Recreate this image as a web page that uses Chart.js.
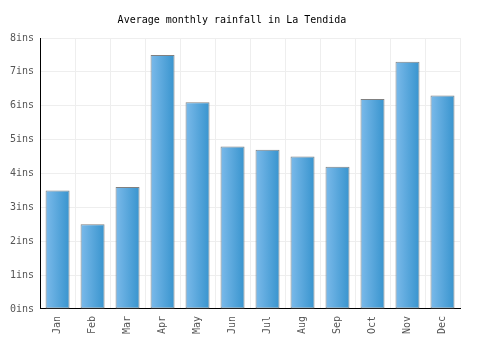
<!DOCTYPE html>
<html><head><meta charset="utf-8">
<script src="https://cdn.jsdelivr.net/npm/chart.js@4"></script>
<style>html,body{margin:0;padding:0;background:#fff}#wrap{width:500px;height:350px}</style>
</head><body><div id="wrap"><canvas id="c" width="500" height="350"></canvas></div>
<script>
const months = ["Jan","Feb","Mar","Apr","May","Jun","Jul","Aug","Sep","Oct","Nov","Dec"];
const rainfall = [3.5,2.5,3.6,7.5,6.1,4.8,4.7,4.5,4.2,6.2,7.3,6.3];
const yTicks = [0,1,2,3,4,5,6,7,8];
const unit = "ins";
const FONT = "'DejaVu Sans Mono', monospace";
const CAT = 1.0, BAR = 0.686;
function grad(ctx){
  const chart = ctx.chart;
  const xs = chart.scales && chart.scales.x;
  if(!xs || ctx.dataIndex === undefined) return '#4aa3df';
  const cx = xs.getPixelForValue(ctx.dataIndex);
  const w = (xs.width/months.length)*CAT*BAR;
  if(!isFinite(cx) || !isFinite(w) || w<=0) return '#4aa3df';
  const g = chart.ctx.createLinearGradient(cx-w/2,0,cx+w/2,0);
  g.addColorStop(0,'#7bbaea');
  g.addColorStop(1,'#3894ce');
  return g;
}
const chart = new Chart(document.getElementById('c'),{
  type:'bar',
  data:{labels:months,datasets:[{data:rainfall,backgroundColor:grad,borderColor:'#808080',borderWidth:1,borderSkipped:false,categoryPercentage:CAT,barPercentage:BAR}]},
  options:{
    responsive:false,animation:false,
    layout:{padding:{left:4,right:40,top:0,bottom:9}},
    plugins:{legend:{display:false},tooltip:{enabled:false},
      title:{display:true,text:'Average monthly rainfall in La Tendida',color:'#000',font:{family:FONT,size:10,weight:'normal'},padding:{top:14,bottom:12}}},
    scales:{
      x:{grid:{color:'#eeeeee',offset:true,drawTicks:false},border:{color:'#000',width:1},
         ticks:{color:'#555',font:{family:FONT,size:10},minRotation:90,maxRotation:90,padding:7}},
      y:{min:0,max:8,afterBuildTicks:(s)=>{s.ticks=yTicks.map(v=>({value:v}));},
         grid:{color:'#eeeeee',drawTicks:false},border:{color:'#000',width:1},
         ticks:{color:'#555',font:{family:FONT,size:10},padding:6,callback:(v)=>v+unit}}
    }
  }
});
chart.update();
</script></body></html>
